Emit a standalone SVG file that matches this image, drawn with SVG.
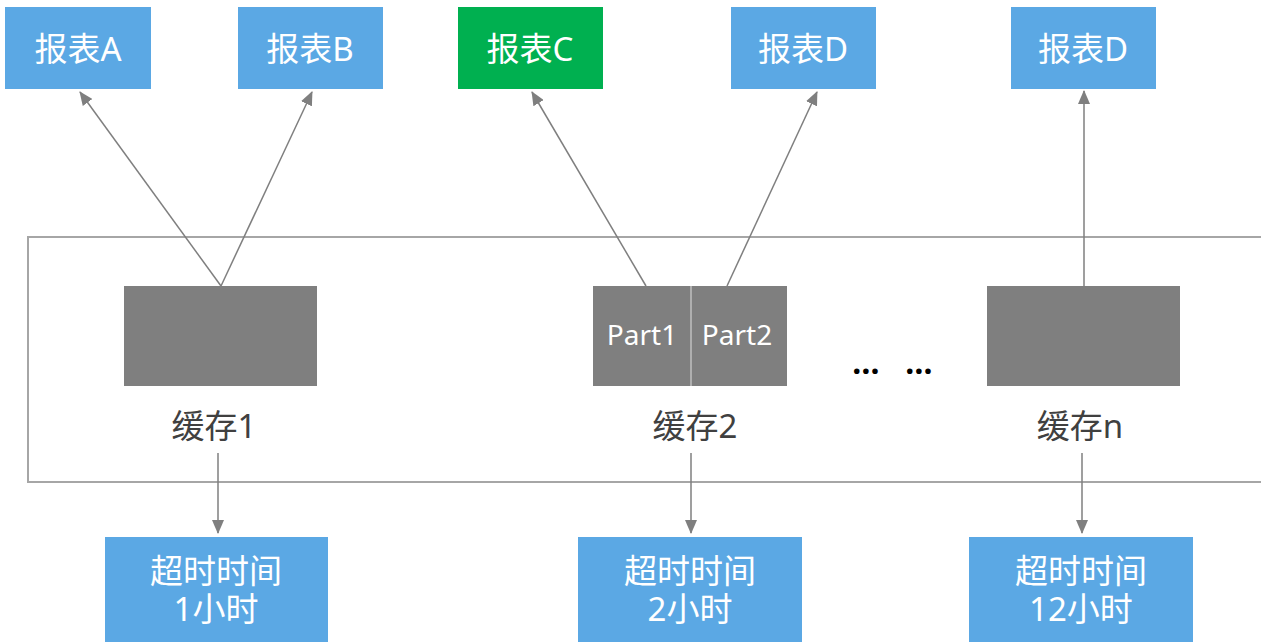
<svg xmlns="http://www.w3.org/2000/svg" width="1261" height="642" viewBox="0 0 1261 642">
<style>
text{font-family:"Noto Sans","Noto Sans CJK SC",sans-serif;text-anchor:middle}
.blue{fill:#5ba8e4}
.green{fill:#00b050}
.cache{fill:#7f7f7f}
.wt{fill:#ffffff;font-size:33px}
.lbl{fill:#404040;font-size:33px}
.part{fill:#ffffff;font-size:28px}
.conn{stroke:#7f7f7f;stroke-width:1.5;fill:none;marker-end:url(#ah)}
</style>
<defs>
<marker id="ah" markerUnits="userSpaceOnUse" markerWidth="14" markerHeight="12" viewBox="0 0 14 12" refX="13" refY="6" orient="auto">
<path d="M0,0 L14,6 L0,12 Z" fill="#7f7f7f"/>
</marker>
</defs>
<rect id="container" x="28" y="237" width="1250" height="245" fill="none" stroke="#a6a6a6" stroke-width="2"/>
<g id="reportA"><rect class="blue" x="5" y="7" width="146" height="82"/><text class="wt" x="78" y="61">报表A</text></g>
<g id="reportB"><rect class="blue" x="238" y="7" width="145" height="82"/><text class="wt" x="310" y="61">报表B</text></g>
<g id="reportC"><rect class="green" x="458" y="7" width="145" height="82"/><text class="wt" x="530" y="61">报表C</text></g>
<g id="reportD1"><rect class="blue" x="731" y="7" width="145" height="82"/><text class="wt" x="803" y="61">报表D</text></g>
<g id="reportD2"><rect class="blue" x="1011" y="7" width="145" height="82"/><text class="wt" x="1083" y="61">报表D</text></g>
<g id="cache1"><rect class="cache" x="124" y="286" width="193" height="100"/><text class="lbl" x="214" y="438">缓存1</text></g>
<g id="cache2"><rect class="cache" x="593" y="286" width="194" height="100"/><line x1="691" y1="286" x2="691" y2="386" stroke="#bfbfbf" stroke-width="1.5"/><text class="part" x="642" y="345">Part1</text><text class="part" x="737" y="345">Part2</text><text class="lbl" x="695" y="438">缓存2</text></g>
<g id="ellipsis"><text y="374" style="font-size:32px;fill:#000000;font-weight:bold"><tspan x="866">…</tspan><tspan x="919">…</tspan></text></g>
<g id="cacheN"><rect class="cache" x="987" y="286" width="193" height="100"/><text class="lbl" x="1080" y="438">缓存n</text></g>
<g id="timeout1"><rect class="blue" x="105" y="537" width="223" height="110"/><text class="wt"><tspan x="216" y="583">超时时间</tspan><tspan x="216" y="621">1小时</tspan></text></g>
<g id="timeout2"><rect class="blue" x="578" y="537" width="224" height="110"/><text class="wt"><tspan x="690" y="583">超时时间</tspan><tspan x="690" y="621">2小时</tspan></text></g>
<g id="timeout3"><rect class="blue" x="969" y="537" width="224" height="110"/><text class="wt"><tspan x="1081" y="583">超时时间</tspan><tspan x="1081" y="621">12小时</tspan></text></g>
<g id="connectors">
<line class="conn" x1="221" y1="286" x2="80" y2="92"/>
<line class="conn" x1="221" y1="286" x2="312" y2="92"/>
<line class="conn" x1="646" y1="286" x2="532" y2="92"/>
<line class="conn" x1="727" y1="286" x2="817" y2="92"/>
<line class="conn" x1="1084" y1="286" x2="1084" y2="91"/>
<line class="conn" x1="218" y1="453" x2="218" y2="533"/>
<line class="conn" x1="691" y1="453" x2="691" y2="533"/>
<line class="conn" x1="1082" y1="453" x2="1082" y2="533"/>
</g>
</svg>
